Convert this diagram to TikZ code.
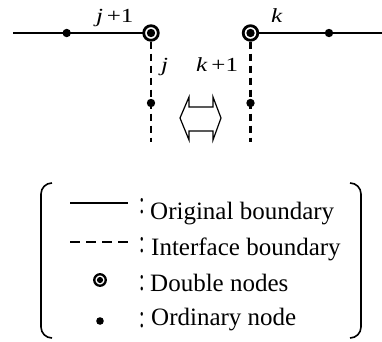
\documentclass[tikz,border=0pt]{standalone}
\usepackage{fontspec}
\setmainfont{Liberation Serif}
\usepackage{graphicx}
\newcommand{\wlab}[1]{\scalebox{1.25}[1]{#1}}
\begin{document}
\begin{tikzpicture}[x=1pt,y=-1pt,
  bline/.style={line width=2.8pt},
  iline/.style={line width=2.8pt, dash pattern=on 7pt off 5pt},
  odot/.style={circle, fill=black, inner sep=0pt, minimum size=8.4pt},
  dnode/.style={circle, draw=black, line width=2.8pt, fill=white, inner sep=0pt, minimum size=14.6pt,
     path picture={\fill[black] (path picture bounding box.center) circle (4.2pt);}},
  sdnode/.style={circle, draw=black, line width=2.3pt, fill=white, inner sep=0pt, minimum size=11.5pt,
     path picture={\fill[black] (path picture bounding box.center) circle (3.1pt);}},
  sodot/.style={circle, fill=black, inner sep=0pt, minimum size=7.6pt},
  lab/.style={inner sep=0pt, anchor=base west, font=\fontsize{20}{20}\selectfont},
  leg/.style={inner sep=0pt, anchor=base west, font=\fontsize{25}{25}\selectfont},
  colon/.style={inner sep=0pt, anchor=center, font=\fontsize{20}{20}\selectfont},
  arrowshape/.style={line width=1.2pt}
]
\useasboundingbox (0,0) rectangle (382,341);

% boundary ends
\coordinate (le) at (13,33);
\coordinate (re) at (382,33);
\coordinate (lb) at (151,142);
\coordinate (rb) at (250.5,142);

% solid boundaries
\draw[bline] (le) -- (151,33);
\draw[bline] (250.5,33) -- (re);

% nodes
\node[odot] (o1) at (66.7,33) {};
\node[odot] (o2) at (329,33) {};
\node[dnode] (dl) at (151,33) {};
\node[dnode] (dr) at (250.5,33) {};

% interface boundaries
\draw[iline] (dl) -- (lb);
\draw[iline] (dr) -- (rb);
\node[odot] (o3) at (151,103) {};
\node[odot] (o4) at (250.5,103) {};

% labels
\node[lab] (l1) at (96,22) {\wlab{\textit{j}\hspace{0.15em}+1}};
\node[lab] (l2) at (271,22) {\wlab{\textit{k}}};
\node[lab] (l3) at (161,71) {\wlab{\textit{j}}};
\node[lab] (l4) at (196,71) {\wlab{\textit{k}\hspace{0.15em}+1}};

% double arrow
\draw[arrowshape] (180,118) -- (189,97) -- (189,107) -- (213,107) -- (213,97) -- (221,118)
   -- (213,140) -- (213,131) -- (189,131) -- (189,140) -- cycle;

% legend brackets
\draw[line width=1.6pt, rounded corners=11pt] (52,183) -| (41,338) -- (52,338);
\draw[line width=1.6pt, rounded corners=11pt] (350,183) -| (361,338) -- (350,338);

% legend symbols
\coordinate (s1a) at (70,203);
\coordinate (s1b) at (128,203);
\draw[line width=2.6pt] (s1a) -- (s1b);
\coordinate (s2a) at (70,242);
\coordinate (s2b) at (128,242);
\draw[line width=2.4pt, dash pattern=on 10pt off 6pt] (s2a) -- (s2b);
\node[sdnode] (sd) at (100,280) {};
\node[sodot] (so) at (100,321) {};

% colons
\node[colon] (c1) at (142,206) {\scalebox{1}[1.6]{:}};
\node[colon] (c2) at (142,245) {\scalebox{1}[1.6]{:}};
\node[colon] (c3) at (142,283) {\scalebox{1}[1.6]{:}};
\node[colon] (c4) at (142,320) {\scalebox{1}[1.6]{:}};

% legend texts
\node[leg] (t1) at (150,219) {Original boundary};
\node[leg] (t2) at (151,255) {Interface boundary};
\node[leg] (t3) at (150,291) {Double nodes};
\node[leg] (t4) at (151,325) {Ordinary node};
\end{tikzpicture}
\end{document}
